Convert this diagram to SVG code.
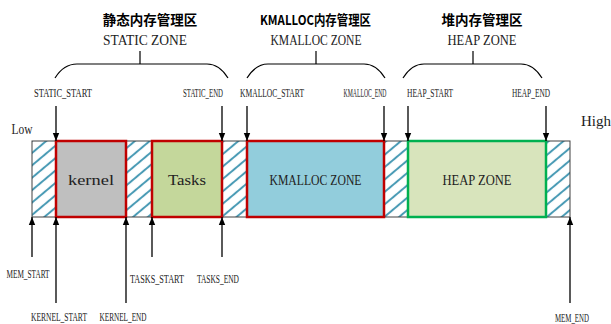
<svg xmlns="http://www.w3.org/2000/svg" width="611" height="324" viewBox="0 0 611 324">
<style>
.title{font-family:"Noto Sans CJK SC","Noto Sans",sans-serif;font-weight:bold;font-size:13.5px;fill:#000;text-anchor:middle}
.zone{font-family:"Liberation Serif",serif;font-size:15px;fill:#222;text-anchor:middle}
.lbl{font-family:"Liberation Serif",serif;font-size:12px;fill:#222;text-anchor:middle}
.seg{stroke-width:2.5}
.brace{fill:none;stroke:#000;stroke-width:1.2}
.arr{stroke:#000;stroke-width:1.3;fill:none}
</style>
<defs>
<pattern id="hatch" patternUnits="userSpaceOnUse" width="10" height="9.5" patternTransform="rotate(-40)">
<rect width="10" height="9.5" fill="#fff"/>
<line x1="0" y1="4.75" x2="10" y2="4.75" stroke="#4a9bb5" stroke-width="2"/>
</pattern>
<marker id="ah" viewBox="0 0 8 8" refX="8" refY="4" markerWidth="8" markerHeight="8" markerUnits="userSpaceOnUse" orient="auto">
<path d="M0,0.8 L8,4 L0,7.2 Z" fill="#000"/>
</marker>
</defs>
<rect width="611" height="324" fill="#fff"/>

<g id="titles">
<text class="title" x="150" y="25">静态内存管理区</text>
<text class="zone" x="145" y="45" textLength="84" lengthAdjust="spacingAndGlyphs">STATIC ZONE</text>
<text class="title" x="315.5" y="25" textLength="111" lengthAdjust="spacingAndGlyphs">KMALLOC内存管理区</text>
<text class="zone" x="316" y="45" textLength="91" lengthAdjust="spacingAndGlyphs">KMALLOC ZONE</text>
<text class="title" x="482" y="25">堆内存管理区</text>
<text class="zone" x="482" y="45" textLength="69" lengthAdjust="spacingAndGlyphs">HEAP ZONE</text>
<text class="zone" x="22" y="134" textLength="21" lengthAdjust="spacingAndGlyphs">Low</text>
<text class="zone" x="596" y="126" textLength="30" lengthAdjust="spacingAndGlyphs">High</text>
</g>

<g id="braces">
<path class="brace" d="M55,78 C60,70 66,64 77,64 L207,64 C217,64 223,70 228,78 M140,64 V51"/>
<path class="brace" d="M247,78 C252,70 258,64 268,64 L364,64 C374,64 380,70 385,78 M316,64 V51"/>
<path class="brace" d="M403,78 C408,70 414,64 424,64 L521,64 C531,64 537,70 542,78 M473,64 V51"/>
</g>

<g id="memory-bar">
<rect x="32" y="141" width="538" height="76" fill="url(#hatch)" stroke="#404040" stroke-width="1"/>
</g>
<g id="kernel">
<rect class="seg" x="56" y="141" width="70" height="76" fill="#bfbfbf" stroke="#c00000"/>
<text class="zone" x="91" y="185" textLength="46" lengthAdjust="spacingAndGlyphs">kernel</text>
</g>
<g id="tasks">
<rect class="seg" x="152" y="141" width="70" height="76" fill="#c4d79b" stroke="#c00000"/>
<text class="zone" x="187" y="185" textLength="38" lengthAdjust="spacingAndGlyphs">Tasks</text>
</g>
<g id="kmalloc-zone">
<rect class="seg" x="247" y="141" width="137" height="76" fill="#92cddc" stroke="#c00000"/>
<text class="zone" x="315.5" y="185" textLength="92" lengthAdjust="spacingAndGlyphs">KMALLOC ZONE</text>
</g>
<g id="heap-zone">
<rect class="seg" x="408" y="141" width="138" height="76" fill="#d8e4bc" stroke="#00b050"/>
<text class="zone" x="477" y="185" textLength="69" lengthAdjust="spacingAndGlyphs">HEAP ZONE</text>
</g>

<g id="connectors">
<line class="arr" x1="56" y1="106" x2="56" y2="141" marker-end="url(#ah)"/>
<line class="arr" x1="222" y1="106" x2="222" y2="141" marker-end="url(#ah)"/>
<line class="arr" x1="247" y1="106" x2="247" y2="141" marker-end="url(#ah)"/>
<line class="arr" x1="384" y1="106" x2="384" y2="141" marker-end="url(#ah)"/>
<line class="arr" x1="408" y1="106" x2="408" y2="141" marker-end="url(#ah)"/>
<line class="arr" x1="546" y1="106" x2="546" y2="141" marker-end="url(#ah)"/>
<line class="arr" x1="32" y1="257" x2="32" y2="217" marker-end="url(#ah)"/>
<line class="arr" x1="56" y1="303" x2="56" y2="217" marker-end="url(#ah)"/>
<line class="arr" x1="126" y1="303" x2="126" y2="217" marker-end="url(#ah)"/>
<line class="arr" x1="152" y1="257" x2="152" y2="217" marker-end="url(#ah)"/>
<line class="arr" x1="222" y1="257" x2="222" y2="217" marker-end="url(#ah)"/>
<line class="arr" x1="570" y1="303" x2="570" y2="217" marker-end="url(#ah)"/>
</g>

<g id="labels">
<text class="lbl" transform="translate(63,97) scale(0.5,1)" textLength="116" lengthAdjust="spacingAndGlyphs">STATIC_START</text>
<text class="lbl" transform="translate(203,97) scale(0.5,1)" textLength="80" lengthAdjust="spacingAndGlyphs">STATIC_END</text>
<text class="lbl" transform="translate(272,97) scale(0.5,1)" textLength="128" lengthAdjust="spacingAndGlyphs">KMALLOC_START</text>
<text class="lbl" transform="translate(365,97) scale(0.5,1)" textLength="86" lengthAdjust="spacingAndGlyphs">KMALLOC_END</text>
<text class="lbl" transform="translate(430,97) scale(0.5,1)" textLength="92" lengthAdjust="spacingAndGlyphs">HEAP_START</text>
<text class="lbl" transform="translate(531,97) scale(0.5,1)" textLength="76" lengthAdjust="spacingAndGlyphs">HEAP_END</text>
<text class="lbl" transform="translate(28,278) scale(0.5,1)" textLength="86" lengthAdjust="spacingAndGlyphs">MEM_START</text>
<text class="lbl" transform="translate(157,283) scale(0.5,1)" textLength="108" lengthAdjust="spacingAndGlyphs">TASKS_START</text>
<text class="lbl" transform="translate(218,283) scale(0.5,1)" textLength="84" lengthAdjust="spacingAndGlyphs">TASKS_END</text>
<text class="lbl" transform="translate(59,321) scale(0.5,1)" textLength="112" lengthAdjust="spacingAndGlyphs">KERNEL_START</text>
<text class="lbl" transform="translate(123,321) scale(0.5,1)" textLength="94" lengthAdjust="spacingAndGlyphs">KERNEL_END</text>
<text class="lbl" transform="translate(572,322) scale(0.5,1)" textLength="68" lengthAdjust="spacingAndGlyphs">MEM_END</text>
</g>
</svg>
